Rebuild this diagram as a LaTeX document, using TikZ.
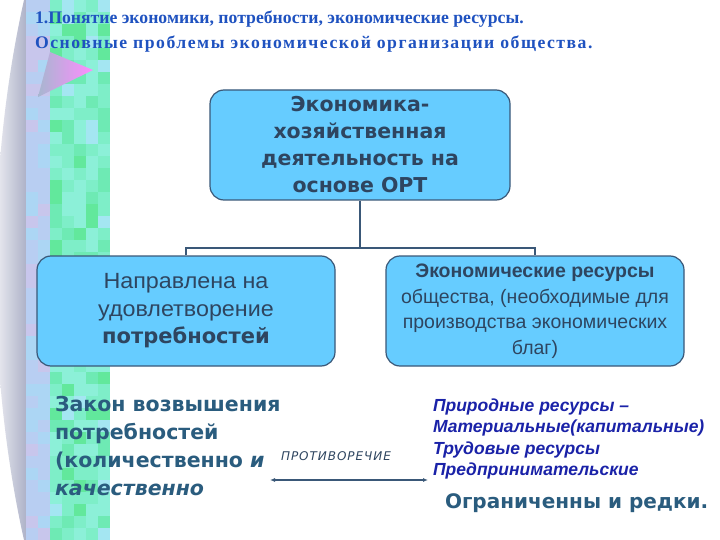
\documentclass[tikz,border=0pt]{standalone}
\usepackage{fontspec}
\setmainfont{Liberation Sans}
\newfontfamily\titlefont{Liberation Serif}
\newfontfamily\widefont{DejaVu Sans}
\newfontfamily\stretchfont{Liberation Sans}[FakeStretch=1.06]
\usetikzlibrary{arrows.meta,calc}
\definecolor{boxfill}{HTML}{66CCFF}
\definecolor{boxline}{HTML}{3A5878}
\definecolor{boxtext}{HTML}{2E4560}
\definecolor{lawtext}{HTML}{2A5C7E}
\definecolor{titleblue}{HTML}{1F52C0}
\definecolor{listblue}{HTML}{1A22A8}
\definecolor{mA}{HTML}{6EEAB4}
\definecolor{mB}{HTML}{8CF0D8}
\definecolor{mC}{HTML}{A4E6F2}
\definecolor{mD}{HTML}{62E89C}
\definecolor{mE}{HTML}{7EEEC8}
\definecolor{lA}{HTML}{B8CEF2}
\definecolor{lB}{HTML}{C8C6EC}
\definecolor{lC}{HTML}{ACD6F4}
\definecolor{lensgray}{HTML}{AEB2C8}
\tikzset{
  rbox/.style={draw=boxline, line width=1.2pt, fill=boxfill, rounded corners=14pt,
    minimum width=298pt, minimum height=110pt, align=center, text=boxtext, inner sep=2pt},
  conn/.style={draw=boxline, line width=2pt},
  plain/.style={inner sep=0pt, outer sep=0pt}
}
\begin{document}
\begin{tikzpicture}[x=1pt,y=-1pt]
\useasboundingbox (0,0) rectangle (720,540);
\fill[white] (0,0) rectangle (720,540);
% left decoration
\shade[left color=white, right color=lensgray]
  (24,0) .. controls (-14,170) and (-14,370) .. (24,540) -- (26,540) -- (26,0) -- cycle;
\pgfmathsetseed{11}
\pgfmathdeclarerandomlist{grn}{{mA}{mB}{mC}{mD}{mE}{mB}{mE}}
\pgfmathdeclarerandomlist{lav}{{lA}{lB}{lC}{lA}}
\foreach \r in {0,...,44}{
  \foreach \c in {0,1}{
    \pgfmathrandomitem{\col}{lav}
    \fill[\col] (26+12*\c,12*\r) rectangle ++(12,12);
  }
  \foreach \c in {0,...,4}{
    \pgfmathrandomitem{\col}{grn}
    \fill[\col] (50+12*\c,12*\r) rectangle ++(12,12);
  }
}
\shade[left color=lA!70!gray, right color=magenta!45!white]
  (38,97) -- (50,52) -- (93,70) -- cycle;
% title
\node[plain, anchor=north west, align=left, text=titleblue,
  font=\titlefont\bfseries\fontsize{17.7}{25}\selectfont] (title) at (35,11)
  {1.Понятие экономики, потребности, экономические ресурсы.\\
   {\addfontfeature{LetterSpace=8.5}Основные проблемы экономической организации общества.}};
% boxes
\node[rbox, minimum width=300pt, font=\widefont\bfseries\fontsize{20.5}{27}\selectfont] (top) at (360,145)
  {Экономика-\\хозяйственная\\деятельность на\\основе ОРТ};
\node[rbox, font=\stretchfont\fontsize{22}{27.5}\selectfont] (left) at (186,311)
  {Направлена на\\удовлетворение\\{\widefont\bfseries\fontsize{21}{27.5}\selectfont потребностей}};
\node[rbox, font=\fontsize{19.5}{25.5}\selectfont] (right) at (535,311)
  {\textbf{Экономические ресурсы}\\общества, (необходимые для\\производства экономических\\благ)};
% connectors
\coordinate (j) at (360,248);
\draw[conn] (top.south) -- (j);
\draw[conn] (left.north) |- (j) -| (right.north);
% law text
\node[plain, anchor=north west, align=left, text=lawtext,
  font=\widefont\bfseries\fontsize{20.5}{28}\selectfont] (law) at (55,396)
  {Закон возвышения\\потребностей\\(количественно \textit{и}\\\textit{качественно}};
\node[plain, text=boxtext, font=\widefont\itshape\fontsize{12}{13}\selectfont] (contr) at (336,456)
  {\addfontfeature{LetterSpace=8}ПРОТИВОРЕЧИЕ};
\coordinate (a1) at (270,480);
\coordinate (a2) at (428,480);
\draw[boxline, line width=1.2pt, {Latex[length=5pt,width=4pt]}-{Latex[length=5pt,width=4pt]}] (a1) -- (a2);
% resources list
\node[plain, anchor=north west, align=left, text=listblue,
  font=\bfseries\itshape\fontsize{17.5}{21.3}\selectfont] (list) at (433,399)
  {Природные ресурсы --\\Материальные(капитальные)\\Трудовые ресурсы\\Предпринимательские};
\node[plain, anchor=north west, text=lawtext, font=\widefont\bfseries\fontsize{20}{24}\selectfont] (rare) at (445,494)
  {Ограниченны и редки.};
\end{tikzpicture}
\end{document}
